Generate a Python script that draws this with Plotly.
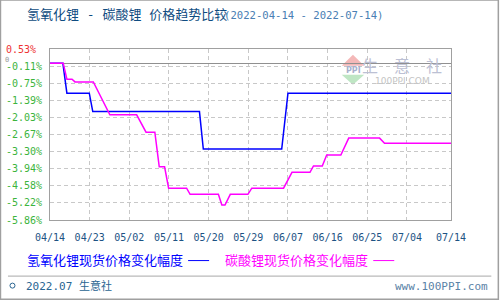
import plotly.graph_objects as go

# ---------------- data ----------------
series_names = ["氢氧化锂现货价格变化幅度", "碳酸锂现货价格变化幅度"]

lioh_dates = ["2022-04-14", "2022-04-16 22:00", "2022-04-17 20:00", "2022-04-22 22:00",
              "2022-04-23 17:00", "2022-05-17 22:00", "2022-05-18 19:00", "2022-06-05 14:00",
              "2022-06-07", "2022-07-14"]
lioh_values = [0, 0, -1.12, -1.12, -1.81, -1.81, -3.21, -3.21, -1.12, -1.12]

li2co3_dates = ["2022-04-14", "2022-04-17", "2022-04-17 20:00", "2022-04-19", "2022-04-19 16:00",
                "2022-04-23 20:00", "2022-04-27 14:00", "2022-05-03 16:00", "2022-05-05 19:00",
                "2022-05-07 19:00", "2022-05-08 19:00", "2022-05-10", "2022-05-10 22:00",
                "2022-05-15", "2022-05-15 19:00", "2022-05-22 05:00", "2022-05-23",
                "2022-05-23 17:00", "2022-05-24 22:00", "2022-05-28 22:00", "2022-05-29 19:00",
                "2022-06-06", "2022-06-07 22:00", "2022-06-12", "2022-06-12 19:00",
                "2022-06-14 19:00", "2022-06-15 19:00", "2022-06-19", "2022-06-20 19:00",
                "2022-06-27 19:00", "2022-06-28 22:00", "2022-07-14"]
li2co3_values = [0, 0, -0.60, -0.60, -0.70, -0.70, -1.93, -1.93, -2.58, -2.58, -3.87, -3.87,
                 -4.67, -4.67, -4.90, -4.90, -5.30, -5.30, -4.90, -4.90, -4.67, -4.67, -4.08,
                 -4.08, -3.84, -3.84, -3.43, -3.43, -2.80, -2.80, -2.99, -2.99]

x_tick_vals = ["2022-04-14", "2022-04-23", "2022-05-02", "2022-05-11", "2022-05-20", "2022-05-29",
               "2022-06-07", "2022-06-16", "2022-06-25", "2022-07-04", "2022-07-14"]
x_tick_text = ["04/14", "04/23", "05/02", "05/11", "05/20", "05/29",
               "06/07", "06/16", "06/25", "07/04", "07/14"]

y_tick_vals = [0.53, -0.109, -0.748, -1.387, -2.026, -2.665, -3.304, -3.943, -4.582, -5.221, -5.86]
y_tick_text = ["0.53%", "-0.11%", "-0.75%", "-1.39%", "-2.03%", "-2.67%", "-3.30%",
               "-3.94%", "-4.58%", "-5.22%", "-5.86%"]

title_main = "氢氧化锂 - 碳酸锂 价格趋势比较"
title_dates = "(2022-04-14 - 2022-07-14)"
footer_left = "2022.07 生意社"
footer_right = "www.100PPI.com"

# ---------------- layout geometry ----------------
L, R, T, B = 50, 450.7, 49.3, 220
W, H = R - L, B - T


def px(x):
    return (x - L) / W


def py(y):
    return (B - y) / H


MONO = "DejaVu Sans Mono, Noto Sans CJK SC, monospace"
colors = ["#0000ff", "#ff00ff"]

fig = go.Figure()
fig.add_trace(go.Scatter(x=lioh_dates, y=lioh_values, mode="lines", name=series_names[0],
                         line=dict(color=colors[0], width=1.5), hoverinfo="skip"))
fig.add_trace(go.Scatter(x=li2co3_dates, y=li2co3_values, mode="lines", name=series_names[1],
                         line=dict(color=colors[1], width=1.5), hoverinfo="skip"))

grid = dict(showgrid=True, gridcolor="#c8c8c8", griddash="4px,3px", gridwidth=1)

fig.update_layout(
    width=500, height=300,
    margin=dict(l=L, r=500 - R, t=T, b=300 - B, pad=0),
    paper_bgcolor="white", plot_bgcolor="white",
    showlegend=False,
    xaxis=dict(type="date", range=["2022-04-14", "2022-07-14"],
               tickmode="array", tickvals=x_tick_vals, ticktext=x_tick_text,
               tickfont=dict(family=MONO, size=10, color="#1d5384"),
               ticks="outside", ticklen=8, tickcolor="rgba(0,0,0,0)",
               showline=True, linecolor="#a0a0a0", linewidth=1, mirror=True,
               zeroline=False, fixedrange=True, **grid),
    yaxis=dict(range=[-5.86, 0.53], tickmode="array", tickvals=y_tick_vals,
               showticklabels=False, ticks="",
               showline=True, linecolor="#a0a0a0", linewidth=1, mirror=True,
               zeroline=True, zerolinecolor="#909090", zerolinewidth=1.2,
               fixedrange=True, **grid),
)

ann = []
# y tick labels, left aligned
for v, t in zip(y_tick_vals, y_tick_text):
    ann.append(dict(x=px(4), xref="paper", y=v, yref="y", text=t, showarrow=False,
                    xanchor="left", yanchor="middle",
                    font=dict(family=MONO, size=10, color="#ee3333" if v > 0 else "#3cb43c")))
# zero marker
ann.append(dict(x=px(7), xref="paper", y=0, yref="y", yshift=3, text="0", showarrow=False,
                xanchor="center", yanchor="middle", font=dict(family=MONO, size=7, color="#9a9a9a")))
# title
ann.append(dict(x=px(25), y=py(15), xref="paper", yref="paper", text=title_main, showarrow=False,
                xanchor="left", yanchor="middle", font=dict(family=MONO, size=13, color="#0f4c81")))
ann.append(dict(x=px(222), y=py(15), xref="paper", yref="paper", text=title_dates, showarrow=False,
                xanchor="left", yanchor="middle", font=dict(family=MONO, size=10.6, color="#4a80b4")))
# legend texts
ann.append(dict(x=px(25), y=py(260.5), xref="paper", yref="paper", text=series_names[0],
                showarrow=False, xanchor="left", yanchor="middle",
                font=dict(family=MONO, size=13, color=colors[0])))
ann.append(dict(x=px(223), y=py(260.5), xref="paper", yref="paper", text=series_names[1],
                showarrow=False, xanchor="left", yanchor="middle",
                font=dict(family=MONO, size=13, color=colors[1])))
# footer
ann.append(dict(x=px(24), y=py(286), xref="paper", yref="paper", text=footer_left, showarrow=False,
                xanchor="left", yanchor="middle", font=dict(family=MONO, size=11, color="#2a6592")))
ann.append(dict(x=px(490), y=py(286), xref="paper", yref="paper", text=footer_right, showarrow=False,
                xanchor="right", yanchor="middle", font=dict(family=MONO, size=11, color="#5a82a6")))
# watermark
ann.append(dict(x=px(402), y=py(65), xref="paper", yref="paper", text="生　意　社", showarrow=False,
                xanchor="center", yanchor="middle",
                font=dict(family="Noto Sans CJK SC", size=16, color="#bcc0d4")))
ann.append(dict(x=px(402), y=py(81), xref="paper", yref="paper", text="100PPI.COM", showarrow=False,
                xanchor="center", yanchor="middle",
                font=dict(family="DejaVu Sans", size=9, color="#c4c4c4")))
ann.append(dict(x=px(353), y=py(71), xref="paper", yref="paper", text="<b>PPI</b>", showarrow=False,
                xanchor="center", yanchor="middle",
                font=dict(family="DejaVu Sans", size=8, color="#a8b0cc")))

shapes = []
# outer border
shapes.append(dict(type="rect", xref="paper", yref="paper", x0=px(0.5), x1=px(498), y0=py(299),
                   y1=py(0.5), line=dict(color="#a0a0a0", width=1.5), layer="below"))
# footer separator
shapes.append(dict(type="line", xref="paper", yref="paper", x0=px(8), x1=px(491), y0=py(276),
                   y1=py(276), line=dict(color="#a8a8a8", width=1)))
# legend line samples
shapes.append(dict(type="line", xref="paper", yref="paper", x0=px(188), x1=px(209), y0=py(260.5),
                   y1=py(260.5), line=dict(color=colors[0], width=1)))
shapes.append(dict(type="line", xref="paper", yref="paper", x0=px(373), x1=px(394), y0=py(260.5),
                   y1=py(260.5), line=dict(color=colors[1], width=1)))


def path(points):
    return "M " + " L ".join(f"{px(a)},{py(b)}" for a, b in points) + " Z"


# watermark logo: pink triangle up, green triangle down
shapes.append(dict(type="path", xref="paper", yref="paper", path=path([(341.5, 66), (364, 66), (352.7, 55)]),
                   fillcolor="#f4b8b8", line=dict(width=0), layer="below"))
shapes.append(dict(type="path", xref="paper", yref="paper", path=path([(341.5, 75), (364, 75), (352.7, 85)]),
                   fillcolor="#bfe6c4", line=dict(width=0), layer="below"))
# footer copyright circle
shapes.append(dict(type="circle", xref="paper", yref="paper", x0=px(10), x1=px(15), y0=py(288),
                   y1=py(283), line=dict(color="#2a6592", width=1)))

fig.update_layout(annotations=ann, shapes=shapes)
fig.write_html("out.html", config={"displayModeBar": False})
